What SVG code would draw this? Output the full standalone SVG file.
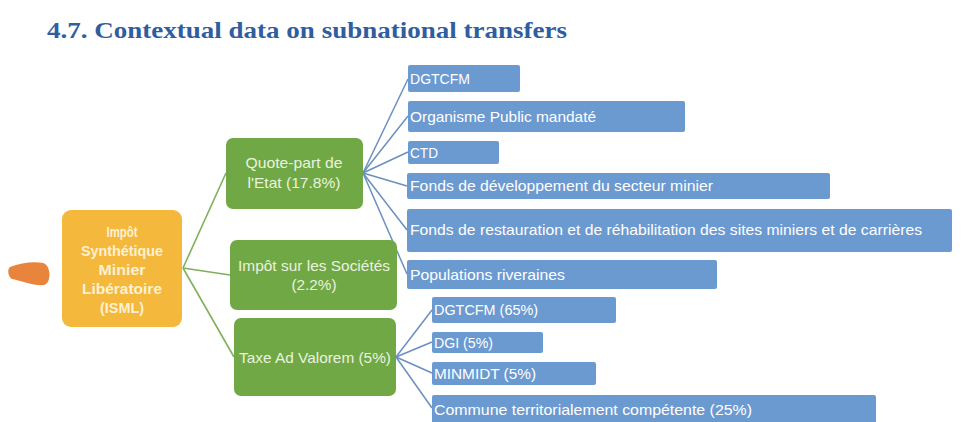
<svg xmlns="http://www.w3.org/2000/svg" width="980" height="422" viewBox="0 0 980 422">
<style>
.title{font-family:"Liberation Serif",serif;font-weight:bold;font-size:24px;fill:#2f5e9f}
.gold{fill:#f4b83c}
.green{fill:#70a845}
.blue{fill:#6b9ad1}
.tg{font-family:"Liberation Sans",Arial,sans-serif;font-weight:bold;font-size:14px;fill:#fdf1d2;text-anchor:middle}
.tgr{font-family:"Liberation Sans",Arial,sans-serif;font-size:15px;fill:#eaf3df;text-anchor:middle}
.tb{font-family:"Liberation Sans",Arial,sans-serif;font-size:15px;fill:#ffffff}
.cg{stroke:#7fb05a;stroke-width:1.6;fill:none}
.cb{stroke:#6a8fc0;stroke-width:1.5;fill:none}
</style>
<rect width="980" height="422" fill="#ffffff"/>
<text class="title" x="47" y="38" textLength="520" lengthAdjust="spacingAndGlyphs">4.7.  Contextual data on subnational transfers</text>
<path d="M10,267 C20,263 34,261 43,263 C51,265 52,283 44,285 C34,286 22,281 12,279 C8,277 7,269 10,267 Z" fill="#e8843c"/>
<g id="connectors">
<line class="cg" x1="183" y1="268" x2="226" y2="173"/>
<line class="cg" x1="183" y1="268" x2="230" y2="275"/>
<line class="cg" x1="183" y1="268" x2="234" y2="357"/>
<line class="cb" x1="363" y1="173" x2="408" y2="79"/>
<line class="cb" x1="363" y1="173" x2="408" y2="116"/>
<line class="cb" x1="363" y1="173" x2="408" y2="152"/>
<line class="cb" x1="363" y1="173" x2="407" y2="186"/>
<line class="cb" x1="363" y1="173" x2="407" y2="230"/>
<line class="cb" x1="363" y1="173" x2="407" y2="274"/>
<line class="cb" x1="396" y1="357" x2="432" y2="310"/>
<line class="cb" x1="396" y1="357" x2="432" y2="342"/>
<line class="cb" x1="396" y1="357" x2="432" y2="373"/>
<line class="cb" x1="396" y1="357" x2="432" y2="408"/>
</g>
<g id="isml">
<rect class="gold" x="62" y="210" width="120" height="117" rx="9"/>
<text class="tg" x="122" y="237" textLength="31" lengthAdjust="spacingAndGlyphs">Impôt</text>
<text class="tg" x="122" y="256" textLength="82" lengthAdjust="spacingAndGlyphs">Synthétique</text>
<text class="tg" x="122" y="275" textLength="47" lengthAdjust="spacingAndGlyphs">Minier</text>
<text class="tg" x="122" y="294" textLength="80" lengthAdjust="spacingAndGlyphs">Libératoire</text>
<text class="tg" x="122" y="313" textLength="44" lengthAdjust="spacingAndGlyphs">(ISML)</text>
</g>
<g id="quote-part">
<rect class="green" x="226" y="138" width="137" height="71" rx="7"/>
<text class="tgr" x="294" y="168" textLength="97" lengthAdjust="spacingAndGlyphs">Quote-part de</text>
<text class="tgr" x="294" y="188" textLength="93" lengthAdjust="spacingAndGlyphs">l'Etat (17.8%)</text>
</g>
<g id="impot-societes">
<rect class="green" x="230" y="240" width="167" height="70" rx="7"/>
<text class="tgr" x="314" y="271" textLength="152" lengthAdjust="spacingAndGlyphs">Impôt sur les Sociétés</text>
<text class="tgr" x="314" y="290" textLength="45" lengthAdjust="spacingAndGlyphs">(2.2%)</text>
</g>
<g id="taxe">
<rect class="green" x="234" y="318" width="162" height="78" rx="7"/>
<text class="tgr" x="315" y="363" textLength="152" lengthAdjust="spacingAndGlyphs">Taxe Ad Valorem (5%)</text>
</g>
<g id="dgtcfm">
<rect class="blue" x="408" y="65" width="112" height="27" rx="2"/>
<text class="tb" x="410" y="84" textLength="60" lengthAdjust="spacingAndGlyphs">DGTCFM</text>
</g>
<g id="organisme">
<rect class="blue" x="408" y="101" width="277" height="31" rx="2"/>
<text class="tb" x="410" y="122" textLength="186" lengthAdjust="spacingAndGlyphs">Organisme Public mandaté</text>
</g>
<g id="ctd">
<rect class="blue" x="408" y="141" width="91" height="23" rx="2"/>
<text class="tb" x="410" y="158" textLength="28" lengthAdjust="spacingAndGlyphs">CTD</text>
</g>
<g id="fonds-dev">
<rect class="blue" x="407" y="173" width="423" height="26" rx="2"/>
<text class="tb" x="410" y="191" textLength="303" lengthAdjust="spacingAndGlyphs">Fonds de développement du secteur minier</text>
</g>
<g id="fonds-rest">
<rect class="blue" x="407" y="209" width="545" height="43" rx="2"/>
<text class="tb" x="410" y="235" textLength="512" lengthAdjust="spacingAndGlyphs">Fonds de restauration et de réhabilitation des sites miniers et de carrières</text>
</g>
<g id="populations">
<rect class="blue" x="407" y="260" width="310" height="29" rx="2"/>
<text class="tb" x="410" y="280" textLength="155" lengthAdjust="spacingAndGlyphs">Populations riveraines</text>
</g>
<g id="dgtcfm65">
<rect class="blue" x="432" y="297" width="184" height="26" rx="2"/>
<text class="tb" x="434" y="315" textLength="104" lengthAdjust="spacingAndGlyphs">DGTCFM (65%)</text>
</g>
<g id="dgi">
<rect class="blue" x="432" y="332" width="111" height="21" rx="2"/>
<text class="tb" x="434" y="348" textLength="59" lengthAdjust="spacingAndGlyphs">DGI (5%)</text>
</g>
<g id="minmidt">
<rect class="blue" x="432" y="362" width="164" height="23" rx="2"/>
<text class="tb" x="434" y="379" textLength="102" lengthAdjust="spacingAndGlyphs">MINMIDT (5%)</text>
</g>
<g id="commune">
<rect class="blue" x="432" y="395" width="444" height="30" rx="2"/>
<text class="tb" x="434" y="415" textLength="318" lengthAdjust="spacingAndGlyphs">Commune territorialement compétente (25%)</text>
</g>
</svg>
